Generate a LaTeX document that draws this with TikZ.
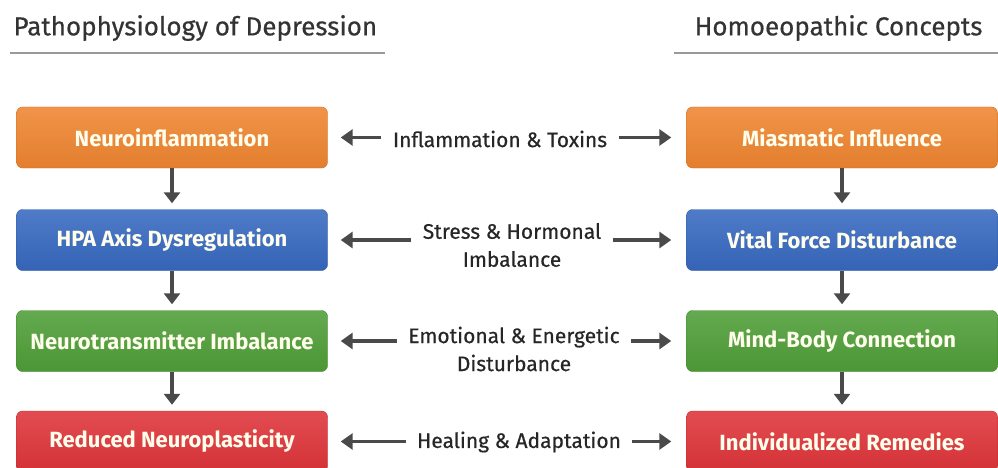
\documentclass[tikz,border=0pt]{standalone}
\usepackage{fontspec}
\setmainfont{Fira Sans}
\newfontfamily\medfont[FakeBold=0.5]{Fira Sans}
\usetikzlibrary{arrows.meta}
\definecolor{orng}{HTML}{EF8530}
\definecolor{blu}{HTML}{3769C0}
\definecolor{grn}{HTML}{4F9E38}
\definecolor{rd}{HTML}{DE3439}
\definecolor{arrgray}{HTML}{4A4A4A}
\begin{document}
\begin{tikzpicture}[x=1pt, y=-1pt,
    box/.style={rounded corners=6pt, minimum width=311pt, minimum height=61pt,
      draw=#1!85!black, top color=#1!88!white, bottom color=#1!95!black,
      text=white!93!yellow, font=\fontsize{22}{26}\selectfont\bfseries},
    lbl/.style={align=center, text=black!85, font=\fontsize{21}{28}\medfont},
    ttl/.style={text=black!80, font=\fontsize{26}{30}\medfont},
    down/.style={arrgray, line width=3.5pt, -{Triangle[length=11pt,width=16pt]}, shorten >=6pt},
    side/.style={arrgray, line width=3.5pt, -{Triangle[length=12pt,width=16pt]}}]
  \useasboundingbox (0,0) rectangle (998,468);
  \node[ttl, anchor=west] (t1) at (10,28) {Pathophysiology of Depression};
  \node[ttl, anchor=east] (t2) at (986,28) {Homoeopathic Concepts};
  \draw[black!40, line width=1.8pt] (10,53) -- (385,53) (674,53) -- (998,53);

  \node[box=orng] (p1) at (172,137.5) {Neuroinflammation};
  \node[box=blu] (p2) at (172,240) {HPA Axis Dysregulation};
  \node[box=grn] (p3) at (172,341) {Neurotransmitter Imbalance};
  \node[box=rd] (p4) at (172,441.5) {Reduced Neuroplasticity};

  \node[box=orng] (h1) at (842,137.5) {Miasmatic Influence};
  \node[box=blu] (h2) at (842,240) {Vital Force Disturbance};
  \node[box=grn] (h3) at (842,341) {Mind-Body Connection};
  \node[box=rd] (h4) at (842,441.5) {Individualized Remedies};

  \node[lbl] (l1) at (500,139) {Inflammation \& Toxins};
  \node[lbl] (l2) at (512,245) {Stress \& Hormonal\\Imbalance};
  \node[lbl] (l3) at (514,349) {Emotional \& Energetic\\Disturbance};
  \node[lbl] (l4) at (519,442) {Healing \& Adaptation};

  \foreach \a/\b in {p1/p2,p2/p3,p3/p4,h1/h2,h2/h3,h3/h4}
    \draw[down] (\a.south) -- (\b.north);
  \foreach \i in {1,...,4} {
    \draw[side, shorten <=8pt, shorten >=13pt] (l\i.west |- p\i.east) -- (p\i.east);
    \draw[side, shorten <=8pt, shorten >=15pt] (l\i.east |- h\i.west) -- (h\i.west);
  }
\end{tikzpicture}
\end{document}
